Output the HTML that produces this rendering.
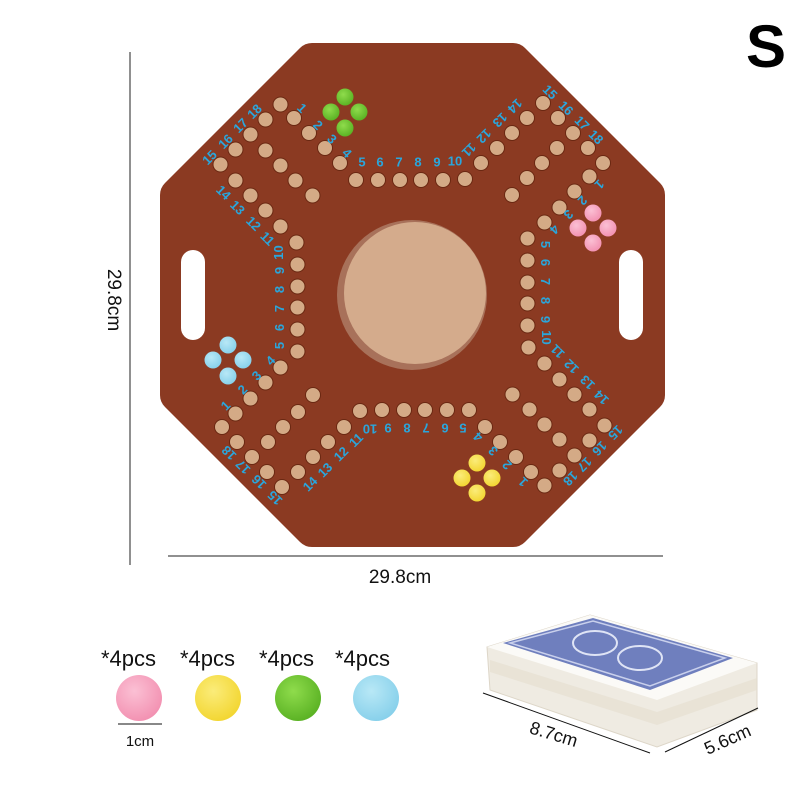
<!DOCTYPE html>
<html><head><meta charset="utf-8"><style>
html,body{margin:0;padding:0;background:#fff;}
svg{display:block;}
text{font-family:"Liberation Sans",sans-serif;}
.n{fill:#2aa6dc;font-weight:bold;font-size:13px;text-anchor:middle;dominant-baseline:central;}
.h{fill:#d4aa86;stroke:#6a2812;stroke-width:1;}
</style></head><body>
<svg width="800" height="800" viewBox="0 0 800 800" xmlns="http://www.w3.org/2000/svg">
<defs>
<radialGradient id="gp" cx="0.4" cy="0.35" r="0.7"><stop offset="0" stop-color="#fbc0d4"/><stop offset="1" stop-color="#f28fb0"/></radialGradient>
<radialGradient id="gy" cx="0.4" cy="0.35" r="0.7"><stop offset="0" stop-color="#fbec7a"/><stop offset="1" stop-color="#f2d52e"/></radialGradient>
<radialGradient id="gg" cx="0.4" cy="0.35" r="0.7"><stop offset="0" stop-color="#8fdc4c"/><stop offset="1" stop-color="#58b022"/></radialGradient>
<radialGradient id="gb" cx="0.4" cy="0.35" r="0.7"><stop offset="0" stop-color="#b8e8f6"/><stop offset="1" stop-color="#85cfea"/></radialGradient>
</defs>
<path d="M312,43 L513,43 Q520,43 525,48 L660,183 Q665,188 665,195 L665,395 Q665,402 660,407 L525,542 Q520,547 513,547 L312,547 Q305,547 300,542 L165,407 Q160,402 160,395 L160,195 Q160,188 165,183 L300,48 Q305,43 312,43 Z" fill="#8b3a22"/>
<rect x="181" y="250" width="24" height="90" rx="12" fill="#fff"/>
<rect x="619" y="250" width="24" height="90" rx="12" fill="#fff"/>
<circle cx="412" cy="295" r="75" fill="#a8715a"/>
<circle cx="415" cy="293" r="71" fill="#d4ab8c"/>

<g>
<circle class="h" cx="294" cy="118" r="7.5"/><circle class="h" cx="309" cy="133" r="7.5"/><circle class="h" cx="325" cy="148" r="7.5"/><circle class="h" cx="340" cy="163" r="7.5"/>
<circle class="h" cx="356" cy="180" r="7.5"/><circle class="h" cx="378" cy="180" r="7.5"/><circle class="h" cx="400" cy="180" r="7.5"/><circle class="h" cx="421" cy="180" r="7.5"/><circle class="h" cx="443" cy="180" r="7.5"/><circle class="h" cx="465" cy="179" r="7.5"/>
<circle class="h" cx="481" cy="163" r="7.5"/><circle class="h" cx="497" cy="148" r="7.5"/><circle class="h" cx="512" cy="133" r="7.5"/><circle class="h" cx="527" cy="118" r="7.5"/>
<circle class="h" cx="543" cy="103" r="7.5"/><circle class="h" cx="558" cy="118" r="7.5"/><circle class="h" cx="573" cy="133" r="7.5"/><circle class="h" cx="588" cy="148" r="7.5"/><circle class="h" cx="603" cy="163" r="7.5"/>
<circle class="h" cx="557" cy="148" r="7.5"/><circle class="h" cx="542" cy="163" r="7.5"/><circle class="h" cx="527" cy="178" r="7.5"/><circle class="h" cx="512" cy="195" r="7.5"/>
<text class="n" transform="translate(302,108) rotate(45)">1</text><text class="n" transform="translate(318,125) rotate(45)">2</text><text class="n" transform="translate(332,139) rotate(45)">3</text><text class="n" transform="translate(347,153) rotate(45)">4</text>
<text class="n" x="362" y="162">5</text><text class="n" x="380" y="162">6</text><text class="n" x="399" y="162">7</text><text class="n" x="418" y="162">8</text><text class="n" x="437" y="162">9</text><text class="n" x="455" y="161">10</text>
<text class="n" transform="translate(469,150) rotate(135)">11</text><text class="n" transform="translate(484,136) rotate(135)">12</text><text class="n" transform="translate(500,120) rotate(135)">13</text><text class="n" transform="translate(515,106) rotate(135)">14</text>
<text class="n" transform="translate(550,92) rotate(45)">15</text><text class="n" transform="translate(566,108) rotate(45)">16</text><text class="n" transform="translate(582,123) rotate(45)">17</text><text class="n" transform="translate(596,137) rotate(45)">18</text>
</g>
<g transform="rotate(90 412.5 295)">
<circle class="h" cx="294" cy="118" r="7.5"/><circle class="h" cx="309" cy="133" r="7.5"/><circle class="h" cx="325" cy="148" r="7.5"/><circle class="h" cx="340" cy="163" r="7.5"/>
<circle class="h" cx="356" cy="180" r="7.5"/><circle class="h" cx="378" cy="180" r="7.5"/><circle class="h" cx="400" cy="180" r="7.5"/><circle class="h" cx="421" cy="180" r="7.5"/><circle class="h" cx="443" cy="180" r="7.5"/><circle class="h" cx="465" cy="179" r="7.5"/>
<circle class="h" cx="481" cy="163" r="7.5"/><circle class="h" cx="497" cy="148" r="7.5"/><circle class="h" cx="512" cy="133" r="7.5"/><circle class="h" cx="527" cy="118" r="7.5"/>
<circle class="h" cx="543" cy="103" r="7.5"/><circle class="h" cx="558" cy="118" r="7.5"/><circle class="h" cx="573" cy="133" r="7.5"/><circle class="h" cx="588" cy="148" r="7.5"/><circle class="h" cx="603" cy="163" r="7.5"/>
<circle class="h" cx="557" cy="148" r="7.5"/><circle class="h" cx="542" cy="163" r="7.5"/><circle class="h" cx="527" cy="178" r="7.5"/><circle class="h" cx="512" cy="195" r="7.5"/>
<text class="n" transform="translate(302,108) rotate(45)">1</text><text class="n" transform="translate(318,125) rotate(45)">2</text><text class="n" transform="translate(332,139) rotate(45)">3</text><text class="n" transform="translate(347,153) rotate(45)">4</text>
<text class="n" x="362" y="162">5</text><text class="n" x="380" y="162">6</text><text class="n" x="399" y="162">7</text><text class="n" x="418" y="162">8</text><text class="n" x="437" y="162">9</text><text class="n" x="455" y="161">10</text>
<text class="n" transform="translate(469,150) rotate(135)">11</text><text class="n" transform="translate(484,136) rotate(135)">12</text><text class="n" transform="translate(500,120) rotate(135)">13</text><text class="n" transform="translate(515,106) rotate(135)">14</text>
<text class="n" transform="translate(550,92) rotate(45)">15</text><text class="n" transform="translate(566,108) rotate(45)">16</text><text class="n" transform="translate(582,123) rotate(45)">17</text><text class="n" transform="translate(596,137) rotate(45)">18</text>
</g>
<g transform="rotate(180 412.5 295)">
<circle class="h" cx="294" cy="118" r="7.5"/><circle class="h" cx="309" cy="133" r="7.5"/><circle class="h" cx="325" cy="148" r="7.5"/><circle class="h" cx="340" cy="163" r="7.5"/>
<circle class="h" cx="356" cy="180" r="7.5"/><circle class="h" cx="378" cy="180" r="7.5"/><circle class="h" cx="400" cy="180" r="7.5"/><circle class="h" cx="421" cy="180" r="7.5"/><circle class="h" cx="443" cy="180" r="7.5"/><circle class="h" cx="465" cy="179" r="7.5"/>
<circle class="h" cx="481" cy="163" r="7.5"/><circle class="h" cx="497" cy="148" r="7.5"/><circle class="h" cx="512" cy="133" r="7.5"/><circle class="h" cx="527" cy="118" r="7.5"/>
<circle class="h" cx="543" cy="103" r="7.5"/><circle class="h" cx="558" cy="118" r="7.5"/><circle class="h" cx="573" cy="133" r="7.5"/><circle class="h" cx="588" cy="148" r="7.5"/><circle class="h" cx="603" cy="163" r="7.5"/>
<circle class="h" cx="557" cy="148" r="7.5"/><circle class="h" cx="542" cy="163" r="7.5"/><circle class="h" cx="527" cy="178" r="7.5"/><circle class="h" cx="512" cy="195" r="7.5"/>
<text class="n" transform="translate(302,108) rotate(45)">1</text><text class="n" transform="translate(318,125) rotate(45)">2</text><text class="n" transform="translate(332,139) rotate(45)">3</text><text class="n" transform="translate(347,153) rotate(45)">4</text>
<text class="n" x="362" y="162">5</text><text class="n" x="380" y="162">6</text><text class="n" x="399" y="162">7</text><text class="n" x="418" y="162">8</text><text class="n" x="437" y="162">9</text><text class="n" x="455" y="161">10</text>
<text class="n" transform="translate(469,150) rotate(135)">11</text><text class="n" transform="translate(484,136) rotate(135)">12</text><text class="n" transform="translate(500,120) rotate(135)">13</text><text class="n" transform="translate(515,106) rotate(135)">14</text>
<text class="n" transform="translate(550,92) rotate(45)">15</text><text class="n" transform="translate(566,108) rotate(45)">16</text><text class="n" transform="translate(582,123) rotate(45)">17</text><text class="n" transform="translate(596,137) rotate(45)">18</text>
</g>
<g transform="rotate(270 412.5 295)">
<circle class="h" cx="294" cy="118" r="7.5"/><circle class="h" cx="309" cy="133" r="7.5"/><circle class="h" cx="325" cy="148" r="7.5"/><circle class="h" cx="340" cy="163" r="7.5"/>
<circle class="h" cx="356" cy="180" r="7.5"/><circle class="h" cx="378" cy="180" r="7.5"/><circle class="h" cx="400" cy="180" r="7.5"/><circle class="h" cx="421" cy="180" r="7.5"/><circle class="h" cx="443" cy="180" r="7.5"/><circle class="h" cx="465" cy="179" r="7.5"/>
<circle class="h" cx="481" cy="163" r="7.5"/><circle class="h" cx="497" cy="148" r="7.5"/><circle class="h" cx="512" cy="133" r="7.5"/><circle class="h" cx="527" cy="118" r="7.5"/>
<circle class="h" cx="543" cy="103" r="7.5"/><circle class="h" cx="558" cy="118" r="7.5"/><circle class="h" cx="573" cy="133" r="7.5"/><circle class="h" cx="588" cy="148" r="7.5"/><circle class="h" cx="603" cy="163" r="7.5"/>
<circle class="h" cx="557" cy="148" r="7.5"/><circle class="h" cx="542" cy="163" r="7.5"/><circle class="h" cx="527" cy="178" r="7.5"/><circle class="h" cx="512" cy="195" r="7.5"/>
<text class="n" transform="translate(302,108) rotate(45)">1</text><text class="n" transform="translate(318,125) rotate(45)">2</text><text class="n" transform="translate(332,139) rotate(45)">3</text><text class="n" transform="translate(347,153) rotate(45)">4</text>
<text class="n" x="362" y="162">5</text><text class="n" x="380" y="162">6</text><text class="n" x="399" y="162">7</text><text class="n" x="418" y="162">8</text><text class="n" x="437" y="162">9</text><text class="n" x="455" y="161">10</text>
<text class="n" transform="translate(469,150) rotate(135)">11</text><text class="n" transform="translate(484,136) rotate(135)">12</text><text class="n" transform="translate(500,120) rotate(135)">13</text><text class="n" transform="translate(515,106) rotate(135)">14</text>
<text class="n" transform="translate(550,92) rotate(45)">15</text><text class="n" transform="translate(566,108) rotate(45)">16</text><text class="n" transform="translate(582,123) rotate(45)">17</text><text class="n" transform="translate(596,137) rotate(45)">18</text>
</g>

<g fill="url(#gg)"><circle cx="345" cy="97" r="8.5"/><circle cx="331" cy="112" r="8.5"/><circle cx="359" cy="112" r="8.5"/><circle cx="345" cy="128" r="8.5"/></g>
<g fill="url(#gp)"><circle cx="593" cy="213" r="8.5"/><circle cx="578" cy="228" r="8.5"/><circle cx="608" cy="228" r="8.5"/><circle cx="593" cy="243" r="8.5"/></g>
<g fill="url(#gb)"><circle cx="228" cy="345" r="8.5"/><circle cx="213" cy="360" r="8.5"/><circle cx="243" cy="360" r="8.5"/><circle cx="228" cy="376" r="8.5"/></g>
<g fill="url(#gy)"><circle cx="477" cy="463" r="8.5"/><circle cx="462" cy="478" r="8.5"/><circle cx="492" cy="478" r="8.5"/><circle cx="477" cy="493" r="8.5"/></g>

<line x1="130" y1="52" x2="130" y2="565" stroke="#222" stroke-width="1"/>
<text transform="translate(108,300) rotate(90)" font-size="19" text-anchor="middle" fill="#111">29.8cm</text>
<line x1="168" y1="556" x2="663" y2="556" stroke="#222" stroke-width="1"/>
<text x="400" y="583" font-size="19" text-anchor="middle" fill="#111">29.8cm</text>
<text x="766" y="67" font-size="60" font-weight="bold" text-anchor="middle" fill="#000">S</text>

<g font-size="22" fill="#111">
<text x="101" y="666">*4pcs</text><text x="180" y="666">*4pcs</text><text x="259" y="666">*4pcs</text><text x="335" y="666">*4pcs</text>
</g>
<circle cx="139" cy="698" r="23" fill="url(#gp)"/>
<circle cx="218" cy="698" r="23" fill="url(#gy)"/>
<circle cx="298" cy="698" r="23" fill="url(#gg)"/>
<circle cx="376" cy="698" r="23" fill="url(#gb)"/>
<line x1="118" y1="724" x2="162" y2="724" stroke="#111" stroke-width="1"/>
<text x="140" y="746" font-size="15" text-anchor="middle" fill="#111">1cm</text>

<polygon points="487,647 590,615 757,663 757,710 657,747 490,690" fill="#efebe2" stroke="#ddd6c8" stroke-width="1"/>
<polygon points="490,660 657,712 757,678 757,690 657,725 490,672" fill="#e4ddcf" opacity="0.6"/>
<polygon points="487,647 590,615 757,663 657,700" fill="#fbfaf7"/>
<polygon points="503,643 593,618 733,658 650,690" fill="#6f7fbe"/>
<polygon points="510,643 593,621 725,658 650,686" fill="none" stroke="#c9d0ec" stroke-width="1.5"/>
<ellipse cx="595" cy="643" rx="22" ry="12" fill="none" stroke="#dfe4f5" stroke-width="2"/>
<ellipse cx="640" cy="658" rx="22" ry="12" fill="none" stroke="#dfe4f5" stroke-width="2"/>
<line x1="483" y1="693" x2="650" y2="753" stroke="#111" stroke-width="1"/>
<line x1="665" y1="752" x2="758" y2="708" stroke="#111" stroke-width="1"/>
<text transform="translate(552,740) rotate(17)" font-size="18" text-anchor="middle" fill="#111">8.7cm</text>
<text transform="translate(730,745) rotate(-24)" font-size="18" text-anchor="middle" fill="#111">5.6cm</text>
</svg>
</body></html>
